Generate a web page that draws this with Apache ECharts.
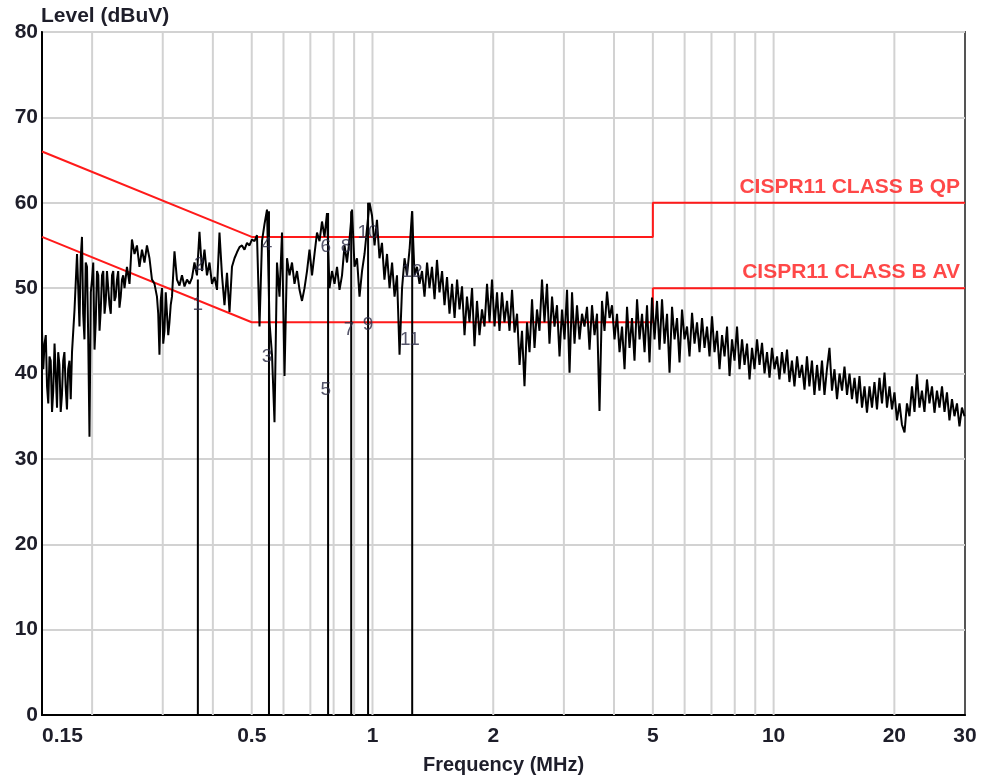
<!DOCTYPE html>
<html><head><meta charset="utf-8">
<script src="https://cdn.jsdelivr.net/npm/echarts@6/dist/echarts.min.js"></script>
<style>html,body{margin:0;padding:0;background:#fff}#c{width:992px;height:780px}</style>
</head><body><div id="c"></div>
<script>
// ---- data ----
const xTickLabels = [0.15, 0.5, 1, 2, 5, 10, 20, 30];
const gridFreqs = [0.2, 0.3, 0.4, 0.5, 0.6, 0.7, 0.8, 0.9, 1, 2, 3, 4, 5, 6, 7, 8, 9, 10, 20];
const qpLimitFreq = [0.15, 0.5, 5, 5, 30];
const qpLimitLevel = [66, 56, 56, 60, 60];
const avLimitFreq = [0.15, 0.5, 5, 5, 30];
const avLimitLevel = [56, 46, 46, 50, 50];
const limitNames = ['CISPR11 CLASS B QP', 'CISPR11 CLASS B AV'];
const limitNameLevel = [60, 50];
const markerFreq = [0.367, 0.552, 0.775, 0.885, 0.975, 1.256];
const markerTop = [51, 59, 58.8, 59, 60, 59];
const markerLabelText = ['1', '2', '3', '4', '5', '6', '7', '8', '9', '10', '11', '12'];
const markerLabelFreq = [0.367, 0.370, 0.546, 0.546, 0.765, 0.765, 0.874, 0.859, 0.975, 0.975, 1.24, 1.255];
const markerLabelLevel = [48.1, 52.7, 42.0, 55.1, 38.1, 54.9, 45.1, 54.9, 45.7, 56.5, 44.0, 51.9];
const trace = [
[0.1500,45.0],[0.1511,40.5],[0.1522,43.5],[0.1533,44.5],[0.1544,38.5],[0.1555,36.5],[0.1566,42.0],[0.1577,41.5],[0.1589,35.5],[0.1600,38.0],[0.1612,43.5],[0.1623,40.0],[0.1635,36.0],[0.1646,42.5],[0.1658,41.0],[0.1670,35.5],[0.1682,37.5],[0.1694,41.5],[0.1706,42.5],[0.1718,38.5],
[0.1731,35.8],[0.1743,40.5],[0.1756,41.5],[0.1769,37.0],[0.1782,42.5],[0.1808,47.5],[0.1834,54.0],[0.1847,50.0],[0.1860,45.5],[0.1873,53.5],[0.1887,56.0],[0.1900,47.0],[0.1914,44.0],[0.1928,53.0],[0.1942,52.5],[0.1956,44.0],[0.1970,32.6],[0.1985,49.5],
[0.1999,51.0],[0.2013,53.0],[0.2028,42.8],[0.2042,46.0],[0.2057,52.0],[0.2072,51.5],[0.2087,45.0],[0.2102,47.5],[0.2117,51.5],[0.2132,52.0],[0.2148,47.0],[0.2163,48.5],[0.2178,52.0],[0.2194,51.8],[0.2210,48.0],[0.2226,47.0],[0.2242,51.5],[0.2258,52.0],[0.2274,48.5],[0.2290,49.0],
[0.2307,51.0],[0.2323,52.0],[0.2340,47.7],[0.2357,49.0],[0.2374,51.0],[0.2391,51.5],[0.2409,50.0],[0.2443,52.5],[0.2479,50.5],[0.2514,55.7],[0.2551,54.0],[0.2587,55.0],[0.2625,52.5],
[0.2663,54.5],[0.2701,53.0],[0.2740,55.0],[0.2780,53.5],[0.2820,51.0],[0.2861,50.5],[0.2902,49.0],[0.2923,47.0],[0.2944,42.2],[0.2965,48.5],[0.2987,50.0],[0.3008,43.5],[0.3030,45.0],[0.3052,49.5],[0.3074,49.5],[0.3096,44.5],[0.3118,46.0],[0.3140,48.0],[0.3163,49.0],[0.3209,54.3],[0.3255,51.0],[0.3302,50.3],[0.3350,51.5],[0.3399,50.2],[0.3448,51.0],[0.3498,50.5],
[0.3548,51.2],[0.3599,53.0],[0.3651,51.5],[0.3704,56.6],[0.3758,52.0],[0.3812,54.5],[0.3867,51.5],[0.3923,53.0],[0.3980,50.5],[0.4038,51.3],[0.4096,49.8],[0.4155,56.5],[0.4215,51.5],[0.4276,48.0],[0.4338,51.8],[0.4401,47.2],[0.4464,52.5],[0.4529,53.5],[0.4594,54.2],[0.4661,54.8],
[0.4728,55.0],[0.4796,54.5],[0.4866,55.3],[0.4936,55.0],[0.5007,55.7],[0.5080,55.5],[0.5153,56.2],[0.5228,45.5],[0.5303,55.5],[0.5380,57.5],[0.5458,59.2],[0.5537,46.0],[0.5617,42.2],[0.5698,34.3],[0.5780,53.0],[0.5864,49.0],[0.5949,56.5],[0.6035,39.7],[0.6122,53.5],[0.6211,51.5],
[0.6300,53.0],[0.6391,50.5],[0.6484,52.0],[0.6578,49.8],[0.6672,48.5],[0.6769,50.0],[0.6867,52.0],[0.6966,54.5],[0.7067,51.5],[0.7169,54.0],[0.7273,56.5],[0.7378,55.5],[0.7484,57.8],[0.7592,56.0],[0.7702,58.8],[0.7813,50.0],[0.7927,52.0],[0.8041,50.5],[0.8158,52.5],[0.8276,49.8],
[0.8395,51.5],[0.8517,55.0],[0.8640,53.0],[0.8765,55.7],[0.8891,59.2],[0.9020,52.5],[0.9150,53.5],[0.9282,49.0],[0.9417,52.0],[0.9553,54.0],[0.9691,57.0],[0.9831,60.0],[0.9973,58.5],[1.012,55.0],[1.026,58.0],[1.041,53.5],[1.056,55.3],[1.071,51.0],[1.087,54.0],[1.103,50.0],
[1.119,53.0],[1.135,49.0],[1.151,51.5],[1.168,42.2],[1.185,50.0],[1.202,53.5],[1.219,51.5],[1.237,54.5],[1.255,59.0],[1.273,51.5],[1.291,52.5],[1.310,50.5],[1.329,52.0],[1.348,49.0],[1.368,53.0],[1.387,50.0],[1.407,52.5],[1.428,48.7],[1.448,53.3],[1.469,49.5],
[1.491,52.0],[1.512,48.0],[1.534,51.3],[1.556,47.0],[1.579,50.5],[1.602,46.5],[1.625,51.0],[1.648,47.5],[1.672,50.2],[1.696,44.5],[1.720,49.0],[1.745,46.0],[1.771,50.0],[1.796,43.2],[1.822,48.5],[1.848,44.5],[1.875,47.5],[1.902,45.5],[1.930,50.5],[1.958,46.0],
[1.986,51.0],[2.015,45.5],[2.044,49.5],[2.073,45.0],[2.103,49.5],[2.133,46.0],[2.165,48.5],[2.196,45.0],[2.228,49.8],[2.260,44.8],[2.293,47.0],[2.326,41.0],[2.359,45.0],[2.393,38.5],[2.428,46.0],[2.463,42.5],[2.499,48.7],[2.535,43.0],[2.571,47.5],[2.608,45.0],
[2.646,51.0],[2.684,46.0],[2.723,50.5],[2.762,43.5],[2.803,49.0],[2.843,45.5],[2.884,48.0],[2.926,42.0],[2.968,47.5],[3.011,44.0],[3.055,49.8],[3.099,40.1],[3.144,49.5],[3.189,43.5],[3.235,48.0],[3.282,44.0],[3.329,47.0],[3.377,45.5],[3.426,47.8],[3.476,42.8],
[3.526,48.0],[3.577,44.5],[3.629,47.0],[3.681,35.6],[3.734,48.5],[3.788,45.0],[3.843,49.6],[3.899,46.5],[3.955,48.0],[4.012,44.0],[4.070,47.0],[4.129,42.5],[4.189,45.5],[4.250,40.5],[4.311,47.8],[4.373,43.0],[4.436,46.5],[4.500,41.5],[4.566,48.7],[4.632,44.0],
[4.699,47.0],[4.767,42.5],[4.835,48.0],[4.905,41.3],[4.976,48.9],[5.048,44.0],[5.121,48.5],[5.195,42.8],[5.270,48.7],[5.346,43.5],[5.424,47.0],[5.502,40.1],[5.582,47.8],[5.663,44.0],[5.744,46.5],[5.827,41.3],[5.911,47.5],[5.997,44.0],[6.083,45.5],[6.171,42.0],
[6.261,47.1],[6.351,43.5],[6.443,46.0],[6.536,42.5],[6.630,46.5],[6.726,43.0],[6.823,45.5],[6.922,42.0],[7.022,46.7],[7.123,42.5],[7.227,45.0],[7.331,40.5],[7.437,44.5],[7.545,42.0],[7.654,45.5],[7.765,39.7],[7.876,44.0],[7.990,41.5],[8.106,45.5],[8.223,40.5],
[8.342,44.0],[8.463,41.0],[8.585,43.5],[8.709,39.3],[8.834,43.0],[8.962,40.5],[9.092,44.0],[9.223,41.0],[9.356,43.6],[9.492,40.0],[9.629,42.5],[9.768,39.5],[9.909,43.0],[10.05,40.5],[10.20,42.0],[10.34,39.3],[10.49,42.5],[10.64,40.0],[10.80,42.8],[10.95,39.0],
[11.11,41.5],[11.27,38.5],[11.44,42.0],[11.60,39.5],[11.77,41.0],[11.94,38.1],[12.11,42.0],[12.28,38.5],[12.46,41.5],[12.64,37.5],[12.83,41.0],[13.01,38.0],[13.20,41.5],[13.39,37.5],[13.58,40.5],[13.78,43.0],[13.98,38.0],[14.18,40.5],[14.39,37.0],[14.60,40.0],
[14.81,38.0],[15.02,40.8],[15.24,37.5],[15.46,40.0],[15.68,37.0],[15.91,39.5],[16.14,36.5],[16.37,39.7],[16.61,36.0],[16.85,38.5],[17.09,35.4],[17.34,38.5],[17.59,36.0],[17.84,39.0],[18.10,35.8],[18.36,39.5],[18.63,36.5],[18.90,40.1],[19.17,36.0],[19.45,38.5],
[19.73,35.8],[20.01,37.8],[20.30,34.5],[20.60,36.5],[20.89,34.0],[21.20,33.1],[21.50,36.5],[21.81,35.0],[22.13,38.5],[22.45,35.5],[22.77,39.9],[23.10,36.0],[23.43,38.0],[23.77,35.5],[24.12,39.3],[24.46,36.5],[24.82,38.5],[25.18,35.4],[25.54,38.0],[25.91,36.0],
[26.29,38.5],[26.67,35.5],[27.05,37.8],[27.44,34.5],[27.84,37.0],[28.24,35.0],[28.65,36.5],[29.06,33.8],[29.48,36.0],[29.91,35.0]
];

// ---- build ----
const FONT = '"Liberation Sans", Arial, sans-serif';
const TXT = '#1e1e2a';
function stepLine(fs, ls) { return fs.map((f, i) => [f, ls[i]]); }
const gridData = [];
gridFreqs.forEach(f => { gridData.push([f, 0], [f, 80], [f, '-']); });
const markerData = [];
markerFreq.forEach((f, i) => { markerData.push([f, 0], [f, markerTop[i]], [f, '-']); });
const markerLabelData = markerLabelText.map((t, i) => [markerLabelFreq[i], markerLabelLevel[i], t]);
const limitLabelData = limitNames.map((t, i) => [30, limitNameLevel[i], t]);

const chart = echarts.init(document.getElementById('c'), null, { renderer: 'canvas' });
chart.setOption({
  animation: false,
  backgroundColor: '#ffffff',
  title: { text: 'Level (dBuV)', left: 41, top: 6, padding: 0,
    textStyle: { fontFamily: FONT, fontWeight: 'bold', fontSize: 21, color: TXT } },
  grid: { left: 42, right: 27, top: 32, bottom: 64, show: true, borderColor: '#555', borderWidth: 2, backgroundColor: 'transparent' },
  xAxis: {
    type: 'log', logBase: 10, min: 0.15, max: 30,
    name: 'Frequency (MHz)', nameLocation: 'middle', nameGap: 40,
    nameTextStyle: { fontFamily: FONT, fontWeight: 'bold', fontSize: 20, color: TXT },
    axisLine: { show: true, lineStyle: { color: '#000', width: 2 } },
    axisTick: { show: false },
    splitLine: { show: false },
    minorTick: { show: false }, minorSplitLine: { show: false },
    axisLabel: {
      customValues: xTickLabels, margin: 11, alignMinLabel: 'left',
      fontFamily: FONT, fontWeight: 'bold', fontSize: 21, color: TXT,
      formatter: v => String(v)
    }
  },
  yAxis: {
    type: 'value', min: 0, max: 80, interval: 10,
    axisLine: { show: true, lineStyle: { color: '#000', width: 2 } },
    axisTick: { show: false },
    splitLine: { show: true, lineStyle: { color: '#d2d2d2', width: 2 } },
    axisLabel: { margin: 4, fontFamily: FONT, fontWeight: 'bold', fontSize: 21, color: TXT }
  },
  series: [
    { name: 'grid', type: 'line', data: gridData, showSymbol: false, silent: true, z: 1,
      lineStyle: { color: '#d2d2d2', width: 2 } },
    { name: 'QP', type: 'line', data: stepLine(qpLimitFreq, qpLimitLevel), showSymbol: false, z: 3,
      lineStyle: { color: '#ff1a1a', width: 2 } },
    { name: 'AV', type: 'line', data: stepLine(avLimitFreq, avLimitLevel), showSymbol: false, z: 3,
      lineStyle: { color: '#ff1a1a', width: 2 } },
    { name: 'trace', type: 'line', data: trace, showSymbol: false, z: 4,
      lineStyle: { color: '#000', width: 2 } },
    { name: 'markers', type: 'line', data: markerData, showSymbol: false, z: 4,
      lineStyle: { color: '#000', width: 2 } },
    { name: 'markerLabels', type: 'scatter', data: markerLabelData, symbolSize: 0, z: 5,
      label: { show: true, position: 'inside', formatter: p => p.value[2],
        fontFamily: FONT, fontSize: 19, color: '#2c2c46' } },
    { name: 'limitLabels', type: 'scatter', data: limitLabelData, symbolSize: 0, z: 5,
      label: { show: true, position: 'top', align: 'right', offset: [-5, 0], distance: 5,
        formatter: p => p.value[2], fontFamily: FONT, fontWeight: 'bold', fontSize: 21, color: '#ff1a1a' } }
  ]
});
</script>
</body></html>
